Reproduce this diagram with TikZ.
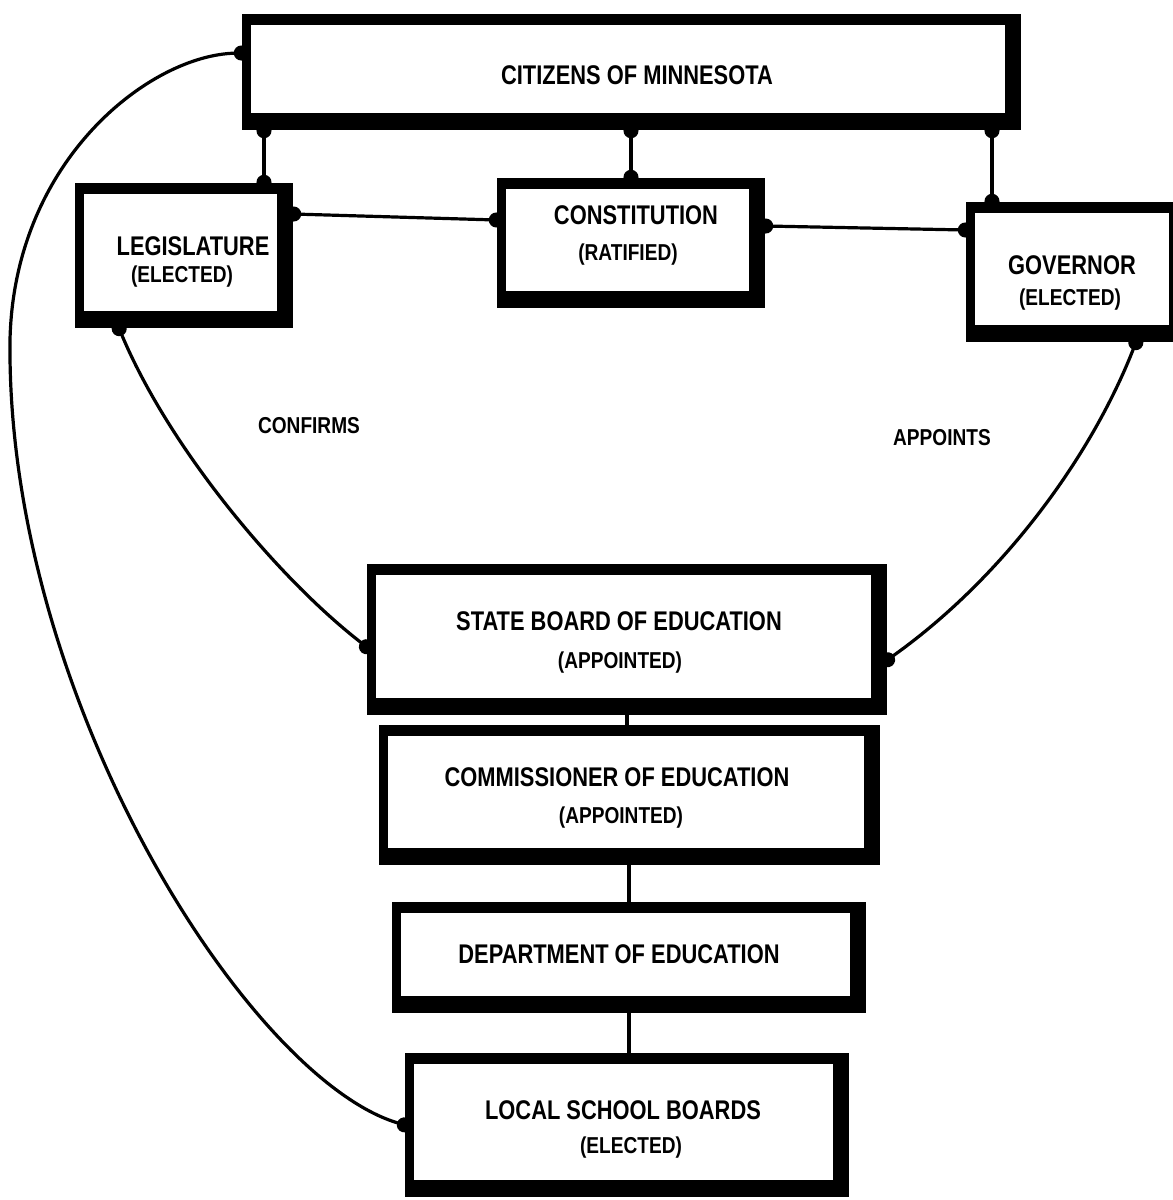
\documentclass[tikz,border=0pt]{standalone}
\usepackage{fontspec}
\newfontfamily\lblfont{Liberation Sans}[FakeStretch=0.81]
\newfontfamily\lblsubfont{Liberation Sans}[FakeStretch=0.83]
\usetikzlibrary{arrows.meta}
\newcommand\mainsz{\lblfont\bfseries\fontsize{27}{32}\selectfont}
\newcommand\subsz{\lblsubfont\bfseries\fontsize{23}{27}\selectfont}
\begin{document}
\begin{tikzpicture}[x=1pt,y=-1pt,
  box/.style={rectangle, inner sep=0pt, fill=white,
    path picture={
      \fill[black] (path picture bounding box.north west) rectangle (path picture bounding box.south east);
      \fill[white] ([shift={(9pt,-11pt)}]path picture bounding box.north west) rectangle ([shift={(-16pt,17pt)}]path picture bounding box.south east);
    }},
  maintxt/.style={font=\mainsz, inner sep=0pt},
  subtxt/.style={font=\subsz, inner sep=0pt},
  conn/.style={line width=3.2pt, {Circle[length=15pt]}-{Circle[length=15pt]}, shorten <=-7pt, shorten >=-7pt},
  plainline/.style={line width=3.2pt}]
\useasboundingbox (0,0) rectangle (1173,1200);
\clip (0,0) rectangle (1173,1200);
\fill[white] (0,0) rectangle (1173,1200);

% boxes
\node[box, minimum width=779pt, minimum height=116pt] (cit) at (631.5,72) {};
\node[box, minimum width=218pt, minimum height=145pt] (leg) at (184,255.5) {};
\node[box, minimum width=268pt, minimum height=130pt] (con) at (631,243) {};
\node[box, minimum width=219pt, minimum height=140pt] (gov) at (1075.5,272) {};
\node[box, minimum width=520pt, minimum height=151pt] (sbe) at (627,639.5) {};
\node[box, minimum width=501pt, minimum height=140pt] (com) at (629.5,795) {};
\node[box, minimum width=474pt, minimum height=111pt] (dep) at (629,957.5) {};
\node[box, minimum width=444pt, minimum height=144pt] (loc) at (627,1125) {};

% texts
\node[maintxt] (cit-t) at (637,75) {CITIZENS OF MINNESOTA};
\node[maintxt] (leg-t) at (193,246) {LEGISLATURE};
\node[subtxt] (leg-s) at (182,277) {(ELECTED)};
\node[maintxt] (con-t) at (636,215) {CONSTITUTION};
\node[subtxt] (con-s) at (628,255) {(RATIFIED)};
\node[maintxt] (gov-t) at (1072,265) {GOVERNOR};
\node[subtxt] (gov-s) at (1070,300) {(ELECTED)};
\node[maintxt] (sbe-t) at (619,621) {STATE BOARD OF EDUCATION};
\node[subtxt] (sbe-s) at (620,663) {(APPOINTED)};
\node[maintxt] (com-t) at (617,777) {COMMISSIONER OF EDUCATION};
\node[subtxt] (com-s) at (621,818) {(APPOINTED)};
\node[maintxt] (dep-t) at (619,954) {DEPARTMENT OF EDUCATION};
\node[maintxt] (loc-t) at (623,1110) {LOCAL SCHOOL BOARDS};
\node[subtxt] (loc-s) at (631,1148) {(ELECTED)};

% labels
\node[subtxt] (confirms) at (309,426) {CONFIRMS};
\node[subtxt] (appoints) at (942,438) {APPOINTS};

% helper coordinates
\coordinate (xa) at (264,0);
\coordinate (xb) at (631,0);
\coordinate (xc) at (992,0);
\coordinate (xd) at (119,0);
\coordinate (xe) at (1136,0);
\coordinate (xf) at (627,0);
\coordinate (xg) at (629,0);
\coordinate (ya) at (0,214);
\coordinate (yb) at (0,220);
\coordinate (yc) at (0,226);
\coordinate (yd) at (0,230);
\coordinate (ye) at (0,647);
\coordinate (yf) at (0,660);
\coordinate (yg) at (0,53);
\coordinate (yh) at (0,1125);

% connectors with dot ends
\draw[conn] (cit.south -| xa) -- (leg.north -| xa);
\draw[conn] (cit.south -| xb) -- (con.north -| xb);
\draw[conn] (cit.south -| xc) -- (gov.north -| xc);
\draw[conn] (leg.east |- ya) -- (con.west |- yb);
\draw[conn] (con.east |- yc) -- (gov.west |- yd);
\draw[conn] (leg.south -| xd) .. controls (170,450) and (280,580) .. (sbe.west |- ye);
\draw[conn] (gov.south -| xe) .. controls (1090,460) and (1000,580) .. (sbe.east |- yf);
\draw[conn] (cit.west |- yg) .. controls (150,55) and (14,160) .. (10,340) .. controls (6,700) and (250,1080) .. (loc.west |- yh);

% plain vertical links
\draw[plainline] (sbe.south -| xf) -- (com.north -| xf);
\draw[plainline] (com.south -| xg) -- (dep.north -| xg);
\draw[plainline] (dep.south -| xg) -- (loc.north -| xg);
\end{tikzpicture}
\end{document}
